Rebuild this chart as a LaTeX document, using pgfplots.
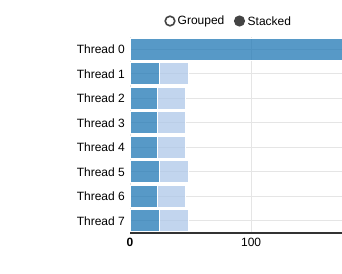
\documentclass[border=0pt]{standalone}
\usepackage{pgfplots}
\pgfplotsset{compat=1.18}
\usepackage{fontspec}
\setmainfont{Liberation Sans}
\definecolor{cdark}{HTML}{1F77B4}
\definecolor{clight}{HTML}{AEC7E8}
\definecolor{cgrid}{HTML}{E5E5E5}
\definecolor{caxis}{HTML}{333333}
\definecolor{clegend}{HTML}{444444}
\begin{document}
\begin{tikzpicture}[x=1bp,y=1bp]
\path[use as bounding box] (0,0) rectangle (342,274);
\begin{axis}[
  at={(130bp,41bp)}, anchor=south west,
  scale only axis, width=212bp, height=196bp,
  xbar stacked, bar width=22bp,
  y dir=reverse,
  xmin=0, xmax=175, ymin=-0.5, ymax=7.5,
  ytick={0,...,7},
  yticklabels={Thread 0,Thread 1,Thread 2,Thread 3,Thread 4,Thread 5,Thread 6,Thread 7},
  xtick={0,100}, xticklabels={\textbf{0},100},
  major tick length=0pt,
  tick label style={font=\fontsize{12bp}{14bp}\selectfont, text=black},
  yticklabel style={inner sep=0pt, xshift=-5bp},
  xticklabel style={inner sep=0pt, yshift=-5bp},
  grid=major, major grid style={cgrid, line width=1bp},
  axis line style={draw=none},
  axis on top=false,
  clip=true,
]
\addplot[fill=cdark, fill opacity=0.75, draw=white, line width=1bp] coordinates {
(175,0) (24,1) (23,2) (23,3) (23,4) (24,5) (23,6) (24,7)};
\addplot[fill=clight, fill opacity=0.75, draw=white, line width=1bp] coordinates {
(0,0) (24,1) (23,2) (23,3) (23,4) (24,5) (23,6) (24,7)};
\draw[caxis, line width=1.2bp] (axis cs:0,7.5) -- (axis cs:175,7.5);
\end{axis}
\draw[clegend, line width=1.6bp, fill=white] (170,253) circle (4.8);
\node[anchor=west, inner sep=0pt, font=\fontsize{12bp}{14bp}\selectfont] at (177.5,253) {Grouped};
\fill[clegend] (239.5,253) circle (5.6);
\node[anchor=west, inner sep=0pt, font=\fontsize{12bp}{14bp}\selectfont] at (247.5,253) {Stacked};
\end{tikzpicture}
\end{document}
